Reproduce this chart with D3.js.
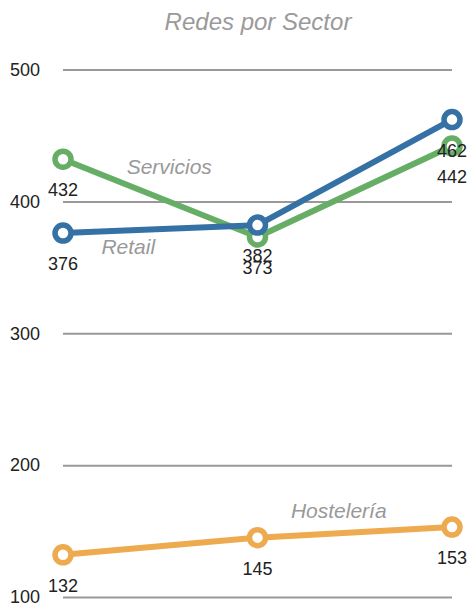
<!DOCTYPE html>
<html>
<head>
<meta charset="utf-8">
<script src="https://cdn.jsdelivr.net/npm/d3@7"></script>
<style>
  html, body { margin: 0; padding: 0; background: #fff; }
  svg { display: block; font-family: "Liberation Sans", Arial, Helvetica, sans-serif; }
</style>
</head>
<body>
<svg id="chart" width="470" height="606"></svg>
<script>
// Number of networks per sector across three periods
const categories = ["P1", "P2", "P3"];
const seriesNames = ["Servicios", "Retail", "Hostelería"];
const serviciosValues = [432, 373, 442];
const retailValues = [376, 382, 462];
const hosteleriaValues = [132, 145, 153];
const yTicks = [100, 200, 300, 400, 500];
const title = "Redes por Sector";

const series = [
  { name: seriesNames[0], values: serviciosValues, color: "#66ad66", labelSeg: 0, labelDx: 9, labelDy: -31 },
  { name: seriesNames[1], values: retailValues, color: "#3671a6", labelSeg: 0, labelDx: -32, labelDy: 18 },
  { name: seriesNames[2], values: hosteleriaValues, color: "#eeaa4f", labelSeg: 1, labelDx: -16, labelDy: -21 }
];
// Drawing order: Hostelería, Servicios, Retail on top
const drawOrder = [series[2], series[0], series[1]];

const svg = d3.select("#chart");

const x = d3.scalePoint().domain(categories).range([63, 452]);
const y = d3.scaleLinear().domain([100, 500]).range([597, 69.5]);

// Title
svg.append("text")
  .attr("x", 258).attr("y", 30)
  .attr("text-anchor", "middle")
  .attr("font-size", 24).attr("font-style", "italic")
  .attr("fill", "#9a9a9a")
  .text(title);

// Gridlines + tick labels via axis
const axis = d3.axisLeft(y).tickValues(yTicks).tickSize(-(452 - 63)).tickPadding(23).tickFormat(d3.format("d"));
const g = svg.append("g").attr("transform", "translate(63,0)").call(axis);
g.select(".domain").remove();
g.selectAll(".tick line").attr("stroke", "#999").attr("stroke-width", 2);
g.selectAll(".tick text")
  .attr("font-size", 18).attr("fill", "#222")
  .attr("font-family", "Liberation Sans, Arial, sans-serif");

const line = d3.line().x((d, i) => x(categories[i])).y(d => y(d));

drawOrder.forEach(s => {
  const gs = svg.append("g");
  gs.append("path")
    .datum(s.values)
    .attr("d", line)
    .attr("fill", "none")
    .attr("stroke", s.color)
    .attr("stroke-width", 6)
    .attr("stroke-linejoin", "round");
  gs.selectAll("circle")
    .data(s.values)
    .join("circle")
    .attr("cx", (d, i) => x(categories[i]))
    .attr("cy", d => y(d))
    .attr("r", 8)
    .attr("fill", "#fff")
    .attr("stroke", s.color)
    .attr("stroke-width", 5.5);
});

// Value labels under points
series.forEach(s => {
  svg.append("g").selectAll("text")
    .data(s.values)
    .join("text")
    .attr("x", (d, i) => x(categories[i]))
    .attr("y", d => y(d) + 37)
    .attr("text-anchor", "middle")
    .attr("font-size", 18)
    .attr("fill", "#222")
    .text(d => d);
});

// Series name labels near a segment midpoint
series.forEach(s => {
  const i = s.labelSeg;
  const mx = (x(categories[i]) + x(categories[i + 1])) / 2;
  const my = (y(s.values[i]) + y(s.values[i + 1])) / 2;
  svg.append("text")
    .attr("x", mx + s.labelDx)
    .attr("y", my + s.labelDy + 7)
    .attr("text-anchor", "middle")
    .attr("font-size", 21)
    .attr("font-style", "italic")
    .attr("fill", "#999")
    .text(s.name);
});
</script>
</body>
</html>
